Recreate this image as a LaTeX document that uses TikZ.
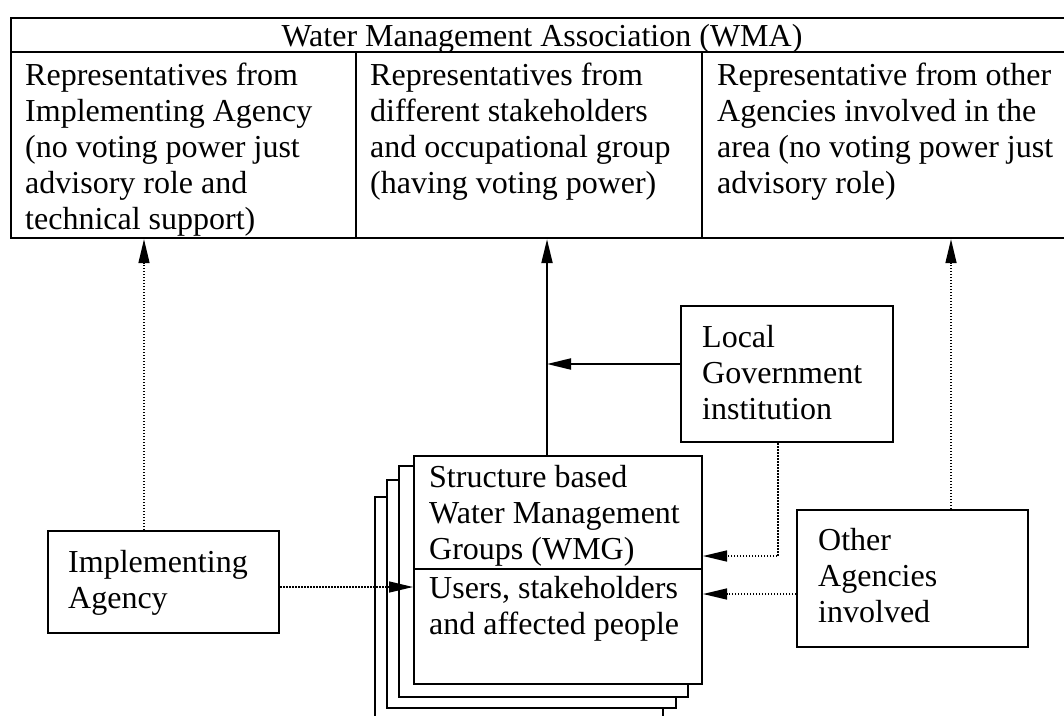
\documentclass[tikz,border=0pt]{standalone}
\usepackage{fontspec}
\setmainfont{Liberation Serif}
\usetikzlibrary{arrows.meta}
\begin{document}
\begin{tikzpicture}[x=1pt,y=-1pt,
  box/.style={draw, line width=2pt, inner sep=0pt, fill=white},
  cell/.style={draw, line width=2.4pt, inner sep=0pt},
  txt/.style={anchor=north west, inner sep=0pt, align=left, font=\fontsize{32}{36}\selectfont},
  hdr/.style={anchor=base, inner sep=0pt, font=\fontsize{32}{36}\selectfont},
  solidarrow/.style={line width=2pt, -{Triangle[length=24pt,width=11pt]}},
  dotarrow/.style={line width=1.5pt, dash pattern=on 1.5pt off 1.5pt, -{Triangle[length=24pt,width=11pt]}},
]
\useasboundingbox (0,0) rectangle (1064,715);
\begin{scope}
\clip (0,0) rectangle (1064,715);
% table
\node[cell, minimum width=1063pt, minimum height=34pt] (wma) at (542.5,35) {};
\node[cell, minimum width=345pt, minimum height=186pt] (c1) at (183.5,145) {};
\node[cell, minimum width=346pt, minimum height=186pt] (c2) at (529,145) {};
\node[cell, minimum width=372pt, minimum height=186pt] (c3) at (888,145) {};
\node[hdr] (wmat) at (542,46) {Water Management Association (WMA)};
\node[txt] (t1) at (25,59.8) {\strut Representatives from\\Implementing Agency\\(no voting power just\\advisory role and\\technical support)};
\node[txt] (t2) at (370,59.8) {\strut Representatives from\\different stakeholders\\and occupational group\\(having voting power)};
\node[txt] (t3) at (717,59.8) {\strut Representative from other\\Agencies involved in the\\area (no voting power just\\advisory role)};
% stack of groups
\node[box, minimum width=288pt, minimum height=228pt] (s3) at (519,611) {};
\node[box, minimum width=289pt, minimum height=228pt] (s2) at (531.5,594) {};
\node[box, minimum width=289pt, minimum height=231pt] (s1) at (543.5,581.5) {};
\node[box, minimum width=288pt, minimum height=113pt] (wmg) at (558,512.5) {};
\node[box, minimum width=288pt, minimum height=115pt] (users) at (558,626.5) {};
\node[txt] (wmgt) at (429,461.8) {\strut Structure based\\Water Management\\Groups (WMG)};
\node[txt] (userst) at (429,572.8) {\strut Users, stakeholders\\and affected people};
% other boxes
\node[box, minimum width=212pt, minimum height=136pt] (lg) at (787,374) {};
\node[txt] (lgt) at (702,321.8) {\strut Local\\Government\\institution};
\node[box, minimum width=231pt, minimum height=137pt] (oa) at (912.5,578.5) {};
\node[txt] (oat) at (818,524.8) {\strut Other\\Agencies\\involved};
\node[box, minimum width=231pt, minimum height=102pt] (ia) at (163.5,582) {};
\node[txt] (iat) at (68,546.8) {\strut Implementing\\Agency};
% helper coordinates
\coordinate (xia) at (144,0);
\coordinate (xmid) at (547,0);
\coordinate (xlg) at (778,0);
\coordinate (xoa) at (951,0);
\coordinate (yia) at (0,587);
\coordinate (ylg) at (0,364);
\coordinate (ylgd) at (0,556);
\coordinate (yoa) at (0,594);
% connectors
\draw[dotarrow] (ia.north -| xia) -- (c1.south -| xia);
\draw[dotarrow] (ia.east |- yia) -- (users.west |- yia);
\draw[solidarrow] (wmg.north -| xmid) -- (c2.south -| xmid);
\draw[solidarrow] (lg.west |- ylg) -- (xmid |- ylg);
\draw[dotarrow] (lg.south -| xlg) |- (wmg.east |- ylgd);
\draw[dotarrow] (oa.west |- yoa) -- (users.east |- yoa);
\draw[dotarrow] (oa.north -| xoa) -- (c3.south -| xoa);
\end{scope}
\end{tikzpicture}
\end{document}
